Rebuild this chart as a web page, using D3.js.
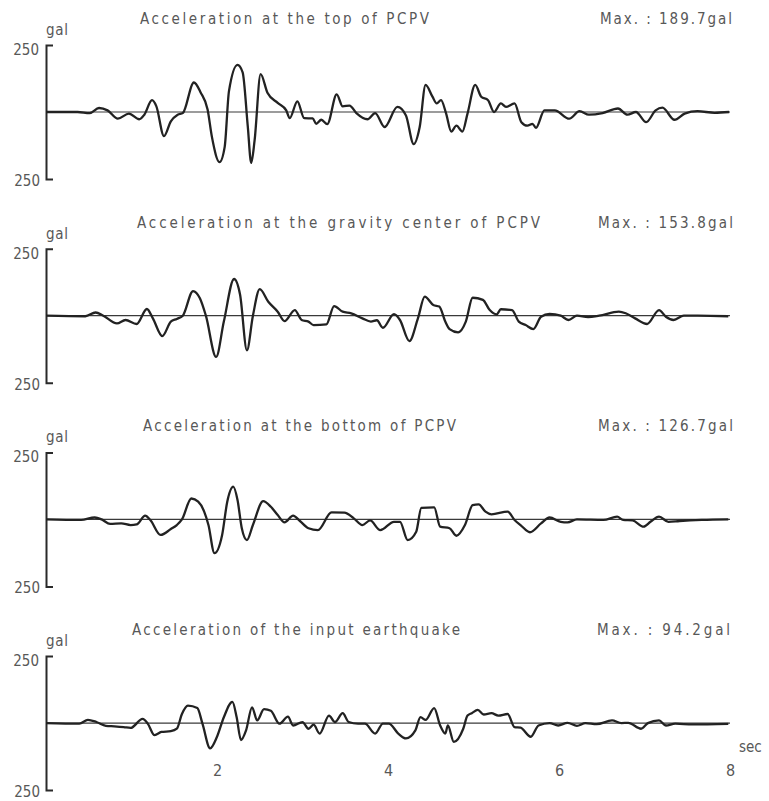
<!DOCTYPE html>
<html>
<head>
<meta charset="utf-8">
<script src="https://cdn.jsdelivr.net/npm/d3@7"></script>
<style>
    body { margin: 0; background: #fff; }
    svg { display: block; }
    text { font-family: "Liberation Sans Narrow", "DejaVu Sans Condensed", Roboto, sans-serif; fill: #585858; }
</style>
</head>
<body>
<div id="chart"></div>
<script>
// panel texts
const titles = [
    "Acceleration at the top of PCPV",
    "Acceleration at the gravity center of PCPV",
    "Acceleration at the bottom of PCPV",
    "Acceleration of the input earthquake"
];
const maxLabels = ["Max. : 189.7gal", "Max. : 153.8gal", "Max. : 126.7gal", "Max. : 94.2gal"];
const yLimit = 250;
const unitLabel = "gal";
const timeLabel = "sec";
const timeTicks = [2, 4, 6, 8];

// [sec, gal]
const topOfPcpv = [
    [0.00, 0], [0.37, 0], [0.51, -4], [0.62, 15], [0.72, 6], [0.84, -25], [0.97, -6], [1.09, -27],
    [1.15, -10], [1.24, 44], [1.29, 22], [1.38, -90], [1.46, -35], [1.54, -10], [1.60, -4], [1.73, 110],
    [1.81, 72], [1.89, 9], [1.94, -92], [2.03, -187], [2.09, -130], [2.14, 78], [2.24, 176], [2.30, 148],
    [2.36, -54], [2.40, -190], [2.44, -105], [2.51, 141], [2.59, 72], [2.71, 34], [2.81, 6], [2.85, -23],
    [2.94, 40], [3.02, -23], [3.12, -24], [3.16, -44], [3.22, -29], [3.29, -45], [3.40, 66], [3.47, 21],
    [3.55, 24], [3.63, -4], [3.76, -27], [3.85, -4], [3.96, -56], [4.11, 19], [4.21, -13], [4.30, -120],
    [4.37, -57], [4.44, 101], [4.52, 57], [4.57, 32], [4.62, 44], [4.68, -6], [4.74, -73], [4.80, -51],
    [4.87, -73], [4.93, -6], [5.02, 101], [5.09, 57], [5.17, 44], [5.24, 0], [5.32, 32], [5.38, 19],
    [5.48, 32], [5.56, -38], [5.63, -51], [5.69, -44], [5.73, -59], [5.83, 6], [5.95, 6], [6.12, -25],
    [6.24, 3], [6.35, -10], [6.51, -4], [6.69, 13], [6.80, -10], [6.90, 0], [7.02, -38], [7.13, 6],
    [7.21, 16], [7.35, -29], [7.47, -6], [7.62, 3], [7.82, -3], [7.99, 0]
];
const gravityCenter = [
    [0.00, 0], [0.46, -2], [0.58, 12], [0.67, 0], [0.83, -29], [0.93, -16], [1.06, -31], [1.18, 25],
    [1.25, -10], [1.36, -76], [1.46, -22], [1.53, -12], [1.60, 0], [1.72, 92], [1.80, 65], [1.87, 0],
    [1.99, -154], [2.08, -22], [2.20, 137], [2.27, 78], [2.35, -129], [2.42, 0], [2.50, 99], [2.60, 52],
    [2.71, 15], [2.79, -20], [2.91, 21], [2.99, -16], [3.07, -22], [3.13, -35], [3.28, -32], [3.37, 36],
    [3.47, 15], [3.57, 9], [3.70, -10], [3.80, -22], [3.87, -17], [3.94, -45], [4.07, 6], [4.14, -16],
    [4.25, -95], [4.35, -10], [4.43, 71], [4.53, 40], [4.60, 34], [4.67, -22], [4.72, -50], [4.82, -62],
    [4.91, -22], [4.99, 67], [5.11, 59], [5.19, 21], [5.27, 5], [5.32, 24], [5.45, 21], [5.53, -22],
    [5.61, -35], [5.70, -50], [5.79, -4], [5.89, 7], [6.02, 0], [6.11, -16], [6.21, 0], [6.34, -5],
    [6.47, 0], [6.70, 15], [6.78, 9], [6.89, -10], [7.03, -31], [7.17, 21], [7.25, -4], [7.34, -16],
    [7.46, 0], [7.62, 0], [7.98, -2]
];
const bottomOfPcpv = [
    [0.00, 0], [0.41, -2], [0.57, 7], [0.65, 0], [0.75, -17], [0.88, -15], [0.99, -21], [1.06, -19],
    [1.16, 14], [1.22, -2], [1.34, -58], [1.46, -36], [1.53, -21], [1.59, 0], [1.70, 78], [1.78, 66],
    [1.85, 29], [1.90, -21], [1.97, -126], [2.06, -58], [2.12, 66], [2.19, 122], [2.24, 72], [2.29, -33],
    [2.35, -77], [2.42, -21], [2.54, 68], [2.63, 47], [2.71, 16], [2.79, -11], [2.89, 14], [2.97, -6],
    [3.07, -33], [3.18, -40], [3.34, 26], [3.49, 25], [3.60, 4], [3.70, -21], [3.79, -4], [3.91, -40],
    [4.07, -9], [4.14, -9], [4.23, -77], [4.33, -46], [4.39, 43], [4.54, 45], [4.61, -27], [4.72, -33],
    [4.80, -61], [4.90, -21], [4.99, 53], [5.06, 56], [5.14, 29], [5.21, 19], [5.40, 29], [5.48, -2],
    [5.55, -21], [5.66, -48], [5.79, -15], [5.89, 7], [6.02, -9], [6.10, -11], [6.21, 0], [6.52, -2],
    [6.68, 10], [6.75, -2], [6.86, -4], [6.99, -27], [7.07, -9], [7.17, 10], [7.28, -9], [7.41, -6],
    [7.67, -2], [7.98, 0]
];
const inputQuake = [
    [0.00, 0], [0.39, -2], [0.49, 12], [0.59, 4], [0.70, -10], [0.80, -12], [0.91, -15], [0.99, -18],
    [1.13, 16], [1.19, -2], [1.27, -45], [1.35, -33], [1.46, -30], [1.53, -21], [1.59, 34], [1.66, 65],
    [1.77, 56], [1.83, -2], [1.92, -94], [2.00, -51], [2.08, 22], [2.18, 79], [2.23, 22], [2.28, -63],
    [2.34, -27], [2.41, 59], [2.47, 10], [2.55, 52], [2.63, 46], [2.73, -2], [2.83, 24], [2.89, -9],
    [3.00, 4], [3.07, -21], [3.13, -6], [3.20, -39], [3.31, 28], [3.38, 4], [3.47, 37], [3.54, 4],
    [3.65, -2], [3.73, -2], [3.85, -39], [3.94, -2], [4.01, -2], [4.12, -39], [4.21, -57], [4.32, -27],
    [4.38, 22], [4.44, 12], [4.54, 56], [4.61, -9], [4.67, -39], [4.70, -9], [4.77, -70], [4.88, -21],
    [4.93, 28], [4.98, 37], [5.05, 49], [5.12, 32], [5.21, 37], [5.29, 28], [5.40, 34], [5.48, -15],
    [5.55, -17], [5.67, -51], [5.76, -9], [5.89, 0], [5.99, -9], [6.10, 1], [6.21, -10], [6.31, 0],
    [6.44, -4], [6.62, 10], [6.73, 0], [6.81, 1], [6.96, -21], [7.04, 0], [7.17, 10], [7.25, -9],
    [7.36, -2], [7.56, -5], [7.98, -3]
];
const traces = [topOfPcpv, gravityCenter, bottomOfPcpv, inputQuake];

const chartWidth = 769, chartHeight = 801;
const firstZero = 112, panelStep = 203.7, halfSpan = 67;
// left edge and width of title / max text in each panel
const titleBox = [[140, 289], [137, 403], [143, 313], [132, 328]];
const maxBox = [[600, 132], [598, 135], [598, 135], [597, 133]];

const svg = d3.select("#chart").append("svg")
    .attr("width", chartWidth)
    .attr("height", chartHeight);

const xScale = d3.scaleLinear().domain([0, 8]).range([46, 730]);

const drawPanel = (data, i) => {
    const zero = firstZero + i * panelStep;
    const yScale = d3.scaleLinear()
        .domain([-yLimit, yLimit])
        .range([zero + halfSpan, zero - halfSpan]);

    const g = svg.append("g").attr("class", "panel");

    g.append("text")
        .attr("x", titleBox[i][0])
        .attr("y", zero - 88)
        .attr("font-size", 15)
        .attr("textLength", titleBox[i][1])
        .attr("lengthAdjust", "spacing")
        .text(titles[i]);

    g.append("text")
        .attr("x", maxBox[i][0])
        .attr("y", zero - 88)
        .attr("font-size", 15)
        .attr("textLength", maxBox[i][1])
        .attr("lengthAdjust", "spacing")
        .text(maxLabels[i]);

    g.append("text")
        .attr("x", 46)
        .attr("y", zero - 77)
        .attr("font-size", 15)
        .attr("textLength", 22)
        .attr("lengthAdjust", "spacing")
        .text(unitLabel);

    g.append("text")
        .attr("x", 39)
        .attr("y", zero - 57)
        .attr("text-anchor", "end")
        .attr("font-size", 15)
        .text(yLimit);

    g.append("text")
        .attr("x", 40)
        .attr("y", zero + 74)
        .attr("text-anchor", "end")
        .attr("font-size", 15)
        .text(yLimit);

    // bracket-shaped vertical axis
    g.append("g")
        .attr("transform", `translate(${xScale(0)},0)`)
        .call(d3.axisRight(yScale).tickValues([]).tickSizeOuter(7))
        .call(a => a.select(".domain").attr("stroke", "#2a2a2a").attr("stroke-width", 2));

    g.append("line")
        .attr("x1", xScale(0))
        .attr("x2", xScale(8))
        .attr("y1", yScale(0))
        .attr("y2", yScale(0))
        .attr("stroke", "#3a3a3a")
        .attr("stroke-width", 1.2);

    const line = d3.line()
        .x(d => xScale(d[0]))
        .y(d => yScale(d[1]))
        .curve(d3.curveMonotoneX);

    g.append("path")
        .datum(data)
        .attr("d", line)
        .attr("fill", "none")
        .attr("stroke", "#222")
        .attr("stroke-width", 2.3)
        .attr("stroke-linejoin", "round");

    if (i === traces.length - 1) {
        g.append("g")
            .attr("transform", `translate(0,${zero + 42})`)
            .call(d3.axisBottom(xScale).tickValues(timeTicks).tickSize(0).tickPadding(0))
            .call(a => a.select(".domain").remove())
            .call(a => a.attr("font-family", null).attr("font-size", 16));

        g.append("text")
            .attr("x", 739)
            .attr("y", zero + 29)
            .attr("font-size", 15)
            .text(timeLabel);
    }
};

traces.forEach(drawPanel);
</script>
</body>
</html>
